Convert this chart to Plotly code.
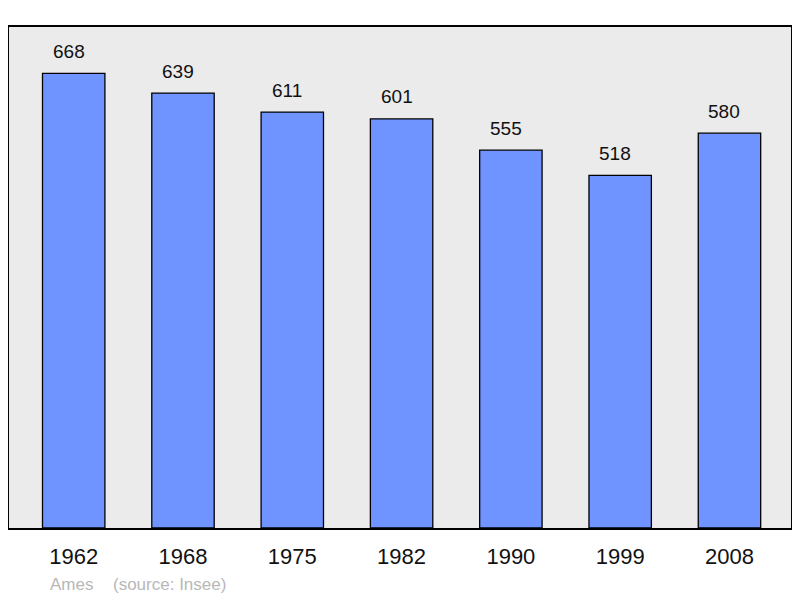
import plotly.graph_objects as go

years = ["1962", "1968", "1975", "1982", "1990", "1999", "2008"]
population = [668, 639, 611, 601, 555, 518, 580]
positions = list(range(len(years)))

fig = go.Figure()
fig.add_trace(go.Bar(
    x=positions, y=population, width=0.571,
    marker=dict(color="#7094ff", line=dict(color="#000000", width=1.3)),
    hoverinfo="skip",
))

for xp, v in zip(positions, population):
    fig.add_annotation(x=xp, y=v, text=str(v), showarrow=False,
                       yanchor="middle", yshift=22, xshift=-5,
                       font=dict(family="Liberation Sans, Arial", size=19, color="#111111"))

src_font = dict(family="Liberation Sans, Arial", size=17, color="#b8b8b8")
fig.add_annotation(xref="paper", yref="paper", x=0.0505, y=-0.112,
                   xanchor="left", yanchor="middle", showarrow=False,
                   text="Ames", font=src_font)
fig.add_annotation(xref="paper", yref="paper", x=0.131, y=-0.112,
                   xanchor="left", yanchor="middle", showarrow=False,
                   text="(source: Insee)", font=src_font)

fig.update_layout(
    width=792, height=590,
    margin=dict(l=1, r=9, t=19, b=70),
    paper_bgcolor="#ffffff", plot_bgcolor="#ebebeb",
    showlegend=False,
    xaxis=dict(range=[-0.592, 6.563], tickvals=positions, ticktext=years,
               showgrid=False, zeroline=False, showline=True, linecolor="#000000",
               linewidth=2, mirror=True, ticks="outside", ticklen=8,
               tickcolor="rgba(0,0,0,0)",
               tickfont=dict(family="Liberation Sans, Arial", size=22, color="#111111")),
    yaxis=dict(range=[0, 736], showgrid=False, zeroline=False, showticklabels=False,
               showline=True, linecolor="#000000", linewidth=2, mirror=True),
)

fig.write_html("out.html")
